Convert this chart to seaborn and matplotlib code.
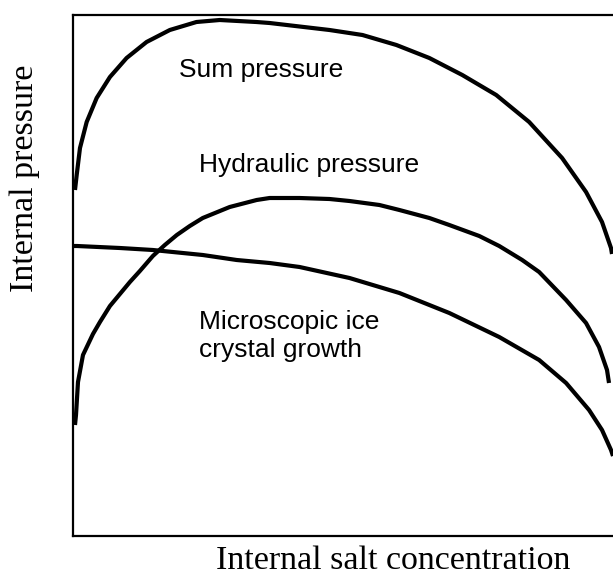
import matplotlib
matplotlib.use('Agg')
import matplotlib.pyplot as plt
import seaborn as sns
import pandas as pd

# ── Data (arbitrary units) ───────────────────────────────────────
sum_x = [2, 3.7, 7, 13.7, 23.7, 37, 53.7, 73.7, 97, 123.7, 147, 183.7, 197,
         257, 290, 324, 357, 390, 424, 457, 490, 514, 530, 539, 540]
sum_y = [346, 361, 388, 414, 438, 459, 478, 494, 506, 514, 516, 514, 513,
         506, 501, 491, 478, 461, 441, 414, 378, 344, 314, 288, 282]

hyd_x = [2, 3, 5, 10, 20, 27, 37, 47, 57, 67, 80, 92, 104, 117, 130, 157, 184,
         197, 227, 257, 277, 307, 327, 357, 377, 407, 427, 450, 467, 494, 514,
         527, 535, 537]
hyd_y = [111, 121, 154, 181, 202, 214, 230, 242, 254, 265, 280, 291, 301, 310,
         318, 329, 336, 338, 338, 337, 335, 331, 326, 318, 311, 300, 290, 276,
         264, 236, 213, 189, 166, 153]

ice_x = [1, 4, 47, 80, 130, 164, 197, 227, 277, 327, 377, 427, 467, 494, 517,
         530, 539, 541]
ice_y = [290, 290, 288, 286, 281, 276, 273, 269, 258, 243, 223, 199, 176, 153,
         126, 106, 86, 80]

df = pd.concat([
    pd.DataFrame({'x': sum_x, 'y': sum_y, 'curve': 'sum'}),
    pd.DataFrame({'x': hyd_x, 'y': hyd_y, 'curve': 'hydraulic'}),
    pd.DataFrame({'x': ice_x, 'y': ice_y, 'curve': 'ice'}),
])

# ── Plot ──────────────────────────────────────────────────────────
sns.set_style('white')
fig = plt.figure(figsize=(6.13, 5.78), dpi=100)
ax = fig.add_axes([73/613, 42/578, 540/613, 521/578])

sns.lineplot(data=df, x='x', y='y', units='curve', estimator=None,
             color='black', lw=3, ax=ax, legend=False,
             solid_joinstyle='round', solid_capstyle='butt')

ax.set_xlim(0, 541); ax.set_ylim(0, 521)
ax.set_xticks([]); ax.set_yticks([])
ax.set_xlabel(''); ax.set_ylabel('')
ax.spines['right'].set_visible(False)
for s in ['top', 'left', 'bottom']:
    ax.spines[s].set_linewidth(1.6)
    ax.spines[s].set_color('black')

sans = dict(family=['Liberation Sans', 'DejaVu Sans'], fontsize=19,
            va='center', ha='left', color='black')
ax.text(106, 466, 'Sum pressure', **sans)
ax.text(126, 371, 'Hydraulic pressure', **sans)
ax.text(126, 200, 'Microscopic ice\ncrystal growth', linespacing=1.2, **sans)

serif = dict(family=['Liberation Serif', 'DejaVu Serif'], fontsize=24.5, color='black')
fig.text(25/613, 1 - 178/578, 'Internal pressure', rotation=90,
         ha='center', va='center', **serif)
fig.text(393/613, 1 - 561/578, 'Internal salt concentration',
         ha='center', va='center', **serif)

plt.savefig('out.png', dpi=100)
